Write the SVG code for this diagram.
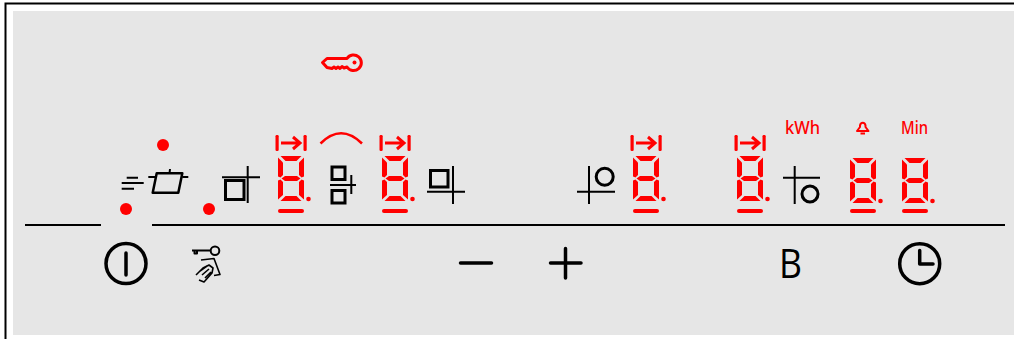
<svg xmlns="http://www.w3.org/2000/svg" width="1014" height="339" viewBox="0 0 1014 339">
<style>
.k{fill:none;stroke:#000;stroke-width:2;stroke-linejoin:round}
.b{fill:none;stroke:#000;stroke-width:3;stroke-linejoin:miter}
.k3{fill:none;stroke:#000;stroke-width:3.500;stroke-linecap:round;stroke-linejoin:round}
.r{fill:none;stroke:#f00;stroke-width:2.500;stroke-linejoin:round}
.s{fill:#f00}
.t{fill:#f00;font-family:"Noto Sans","Liberation Sans",sans-serif;font-size:18px;font-weight:500}
</style>
<defs>
<g id="seg">
<path class="s" d="M2.500 0H23.500L18.500 5H7.500Z"/>
<path class="s" d="M0 1.500L5 6.500V19L2.500 21.500L0 20.500Z"/>
<path class="s" d="M26 1.500L21 6.500V19L23.500 21.500L26 20.500Z"/>
<path class="s" d="M3.500 22.500L7 20H19L22.500 22.500L19 25H7Z"/>
<path class="s" d="M0 24.500L2.500 23.500L5 26V39L0 43.500Z"/>
<path class="s" d="M26 24.500L23.500 23.500L21 26V39L26 43.500Z"/>
<path class="s" d="M2.500 45L7.500 40H18.500L23.500 45Z"/>
<circle class="s" cx="30.500" cy="43" r="2.300"/>
</g>
<rect id="under" class="s" x="0" y="0" width="26" height="4" rx="2"/>
<g id="tab">
<rect class="s" x="-2.500" y="-9" width="3.200" height="16" rx="1.200"/>
<rect class="s" x="25.500" y="-9" width="3.200" height="16" rx="1.200"/>
<path d="M3 -1H22M15 -7L22 -1L15 5" fill="none" stroke="#f00" stroke-width="3"/>
</g>
</defs>
<rect id="frame" x="5.500" y="3.500" width="1010" height="340" fill="#fff" stroke="#000" stroke-width="2"/>
<rect id="panel" x="13" y="11" width="1001" height="324" fill="#e6e6e6"/>
<g id="connectors">
<path d="M25 225H101M152 225H1005" stroke="#000" stroke-width="2" fill="none"/>
</g>
<g id="key-lock"><path class="r" style="stroke-width:3" d="M322.500 62.500L327 58.500H347A7.800 7.800 0 1 1 347 67L344 68L342 66.500L340 68.500L338 67L336 68.500L334 67L332 68.500L327 67.500Z"/><circle class="s" cx="354.500" cy="62.500" r="2"/></g>
<g id="led-1"><circle class="s" cx="163" cy="145" r="6"/></g>
<g id="led-2"><circle class="s" cx="126" cy="209" r="6"/></g>
<g id="led-3"><circle class="s" cx="209" cy="209" r="6"/></g>
<g id="pot"><path class="k" d="M126.700 177.700H138M121.700 183H143.700M121.700 188.700H134M148.300 177H156.700M182.300 177H188.300M170 169L169.500 173.300"/><path class="b" style="stroke-width:2.500;stroke-linejoin:round" d="M156.700 173.300H182.300L178.300 192.700H152.700Z"/></g>
<g id="zone-1"><path class="b" d="M225.500 180.500H244V199.500H225.500Z"/><path class="k" d="M222 177.300H260M247.700 166V203"/></g>
<g id="digit-1"><use href="#tab" x="278" y="144"/><use href="#seg" x="278" y="156"/><use href="#under" x="278" y="209"/></g>
<g id="zone-2"><path class="r" d="M320.500 143.500Q341 123 362 143.500"/><path class="b" d="M332 167H345V179.500H332ZM332 190.500H345V203H332Z"/><path class="k" d="M330 185H356M351.300 175V194"/></g>
<g id="digit-2"><use href="#tab" x="382" y="144"/><use href="#seg" x="382" y="156"/><use href="#under" x="382" y="209"/></g>
<g id="zone-3"><path class="b" d="M430.500 170.500H448V187H430.500Z"/><path class="k" d="M427 191.700H465M453 166V204"/></g>
<g id="zone-4"><path class="k" d="M577 191.700H615M589 166V204"/><circle class="b" cx="604.700" cy="176.700" r="8.500"/></g>
<g id="digit-3"><use href="#tab" x="633" y="144"/><use href="#seg" x="633" y="156"/><use href="#under" x="633" y="209"/></g>
<g id="digit-4"><use href="#tab" x="737" y="144"/><use href="#seg" x="737" y="156"/><use href="#under" x="737" y="209"/></g>
<g id="zone-5"><path class="k" d="M783 177.700H820M794.700 166V204"/><circle class="b" cx="810" cy="194" r="8"/></g>
<g id="kwh"><text class="t" x="785" y="134" textLength="35" lengthAdjust="spacingAndGlyphs">kWh</text></g>
<g id="bell"><path class="r" style="stroke-width:2" d="M857 131L860 127V125.500A2.800 3.500 0 0 1 865.500 125.500V127L868.500 131ZM860.500 133.500H865"/></g>
<g id="min"><text class="t" x="901" y="134" textLength="27" lengthAdjust="spacingAndGlyphs">Min</text></g>
<g id="digit-5"><use href="#seg" x="850" y="158"/><use href="#under" x="850" y="209"/></g>
<g id="digit-6"><use href="#seg" x="902" y="158"/><use href="#under" x="902" y="209"/></g>
<g id="power"><circle class="k3" cx="126" cy="263.500" r="20"/><path class="k3" d="M126 253V275"/></g>
<g id="key-hand"><circle class="k" cx="215" cy="250.700" r="4.300"/><path class="k" d="M192 250.500H210.500M194.500 250.500V253.500H197V250.500"/><path class="k" style="stroke-width:1.600" d="M201 260L214 258.500L220 274.500L214 275.500M196 275L203 268L209 265L213 268L212 273L204 282L199 280M200 271L207 266M202 275L209 269M205 278L211 272"/></g>
<g id="minus"><path class="k3" d="M460.500 263H491.500"/></g>
<g id="plus"><path class="k3" d="M550.500 263H581M565.500 248.500V278"/></g>
<g id="b-key"><text x="779" y="278" font-family="'Open Sans','Noto Sans',sans-serif" font-size="40" font-weight="400" fill="#000" textLength="23" lengthAdjust="spacingAndGlyphs">B</text></g>
<g id="clock"><circle class="k3" cx="919.700" cy="263.700" r="20"/><path class="k3" d="M919.700 250.500V264H933"/></g>
</svg>
